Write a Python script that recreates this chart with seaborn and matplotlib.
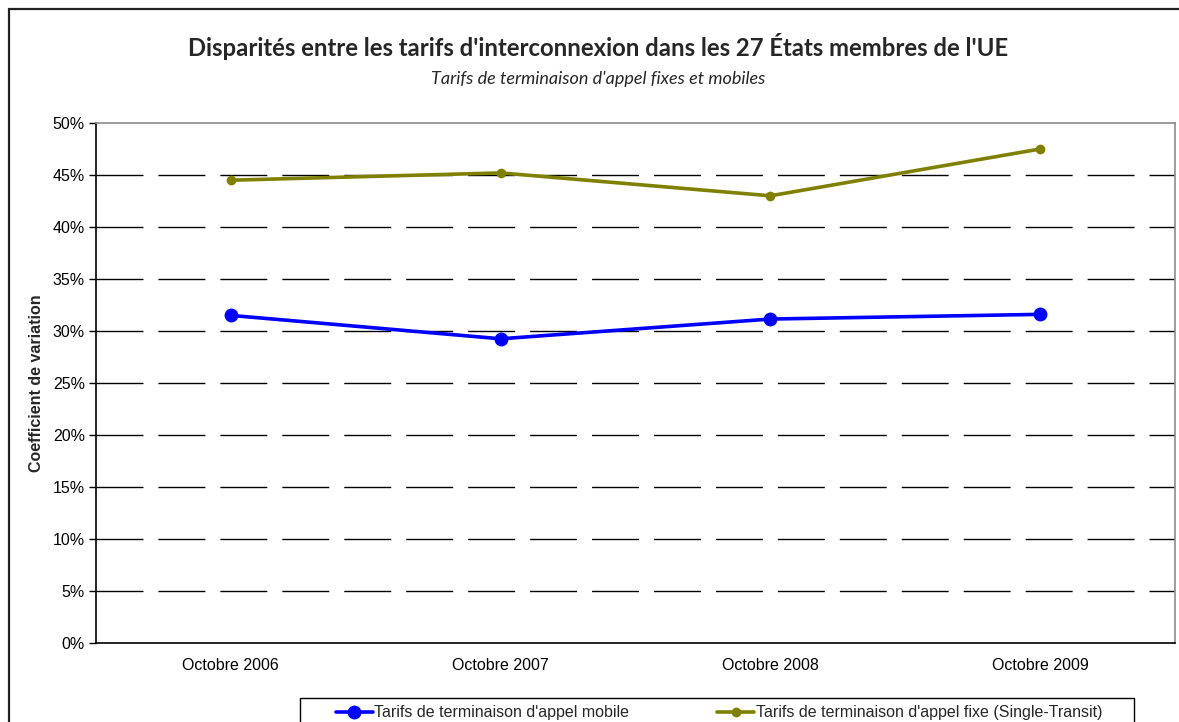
import matplotlib
matplotlib.use('Agg')
import matplotlib.pyplot as plt
from matplotlib.patches import Rectangle
from matplotlib.ticker import FixedLocator, PercentFormatter
import pandas as pd
import seaborn as sns

# ---- Data ----
periods = ['Octobre 2006', 'Octobre 2007', 'Octobre 2008', 'Octobre 2009']
mobile = [31.5, 29.25, 31.15, 31.6]
fixe = [44.5, 45.2, 43.0, 47.5]
mobile_name = "Tarifs de terminaison d'appel mobile"
fixe_name = "Tarifs de terminaison d'appel fixe (Single-Transit)"

df = pd.DataFrame({
    'Periode': periods * 2,
    'Valeur': mobile + fixe,
    'Serie': [mobile_name] * 4 + [fixe_name] * 4,
})

# ---- Style ----
sns.set_style('white')
plt.rcParams['font.family'] = ['Liberation Sans', 'DejaVu Sans']
plt.rcParams['lines.scale_dashes'] = False

W, H = 1179, 722
fig = plt.figure(figsize=(W / 100, H / 100), dpi=100)
ax = fig.add_axes([96 / W, 1 - 643 / H, (1175 - 96) / W, (643 - 123) / H])

# ---- Lines ----
sns.lineplot(data=df[df['Serie'] == mobile_name], x='Periode', y='Valeur', color='#0000FF',
             marker='o', markersize=10, markeredgewidth=0, linewidth=2.6, ax=ax, label=mobile_name)
sns.lineplot(data=df[df['Serie'] == fixe_name], x='Periode', y='Valeur', color='#808000',
             marker='o', markersize=7, markeredgewidth=0, linewidth=2.6, ax=ax, label=fixe_name)

# ---- Axes ----
ax.set_xlim(-0.5, 3.5)
ax.set_ylim(0, 50)
ax.yaxis.set_major_locator(FixedLocator(range(0, 51, 5)))
ax.yaxis.set_major_formatter(PercentFormatter(decimals=0))
ax.set_xticks(range(4))
ax.set_xticklabels(periods)
ax.set_xticks([-0.5, 0.5, 1.5, 2.5, 3.5], minor=True)
ax.tick_params(axis='x', which='major', length=0, pad=11, labelsize=11.5, colors='black')
ax.tick_params(axis='x', which='minor', length=5, width=1, color='black', direction='out')
ax.tick_params(axis='y', length=5, width=1, color='black', direction='out', left=True,
               pad=3, labelsize=11.5, colors='black')
ax.set_xlabel('')
ax.set_ylabel('Coefficient de variation', fontsize=11.5, fontweight='bold', labelpad=6)

for y in range(5, 50, 5):
    ax.axhline(y, color='black', linewidth=1, linestyle=(0, (33.8, 10.8)), zorder=1)

for side in ['left', 'bottom']:
    ax.spines[side].set_color('black')
    ax.spines[side].set_linewidth(1.2)
for side in ['top', 'right']:
    ax.spines[side].set_color('#8c8c8c')
    ax.spines[side].set_linewidth(1.2)

# ---- Titles ----
fig.text(598 / W, 1 - 47 / H, "Disparités entre les tarifs d'interconnexion dans les 27 États membres de l'UE",
         ha='center', va='center', fontsize=17.2, fontweight='bold', family=['Lato', 'DejaVu Sans'])
fig.text(598 / W, 1 - 79 / H, "Tarifs de terminaison d'appel fixes et mobiles",
         ha='center', va='center', fontsize=13, style='italic', family=['Lato', 'DejaVu Sans'])

# ---- Legend ----
ax.get_legend().remove()
handles, labels = ax.get_legend_handles_labels()
leg = fig.legend(handles, labels, loc='center', ncol=2, mode='expand',
                 bbox_to_anchor=(336 / W, 1 - 713 / H - 0.01, (1102 - 336) / W, 0.02),
                 frameon=False, fontsize=11.5, handlelength=2.3, handletextpad=0.1,
                 borderpad=0, borderaxespad=0, columnspacing=1)
fig.patches.append(Rectangle((300 / W, -0.1), (1134 - 300) / W, 0.1 + 1 - 698 / H,
                             transform=fig.transFigure, fill=False, edgecolor='black', linewidth=1))

# ---- Outer chart frame ----
fig.patches.append(Rectangle((9 / W, -0.1), 1.2, 1 - 9 / H + 0.1, transform=fig.transFigure,
                             fill=False, edgecolor='#222222', linewidth=1.6, zorder=0))

fig.savefig('out.png', dpi=100)
